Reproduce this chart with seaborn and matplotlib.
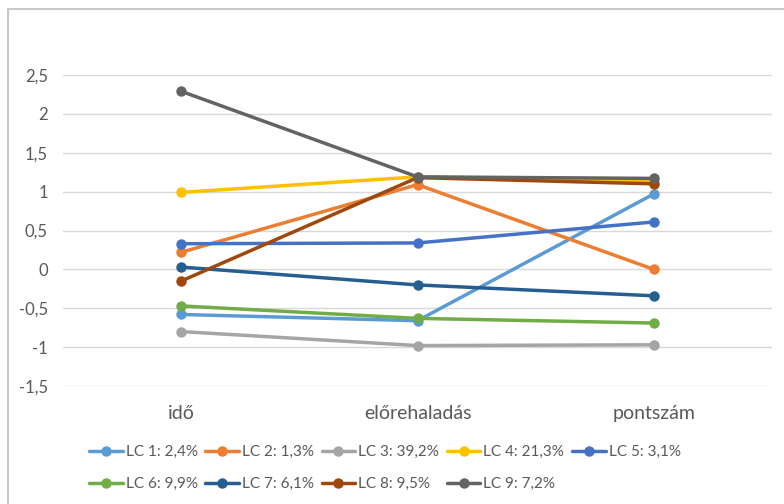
import pandas as pd
import seaborn as sns
import matplotlib.pyplot as plt
from matplotlib.ticker import FuncFormatter
from matplotlib.patches import Rectangle

sns.set_style('white')
plt.rcParams['font.family'] = ['Lato', 'DejaVu Sans']

# data
categories = ['idő', 'előrehaladás', 'pontszám']
series_names = ['LC 1: 2,4%', 'LC 2: 1,3%', 'LC 3: 39,2%', 'LC 4: 21,3%', 'LC 5: 3,1%',
                'LC 6: 9,9%', 'LC 7: 6,1%', 'LC 8: 9,5%', 'LC 9: 7,2%']
lc1 = [-0.58, -0.66, 0.97]
lc2 = [0.22, 1.09, 0.00]
lc3 = [-0.80, -0.98, -0.97]
lc4 = [0.99, 1.19, 1.14]
lc5 = [0.33, 0.34, 0.61]
lc6 = [-0.47, -0.63, -0.69]
lc7 = [0.03, -0.20, -0.34]
lc8 = [-0.15, 1.18, 1.10]
lc9 = [2.29, 1.19, 1.17]
colors = ['#5B9BD5', '#ED7D31', '#A5A5A5', '#FFC000', '#4472C4',
          '#70AD47', '#255E91', '#9E480E', '#636363']

# LONG FORMAT FOR SEABORN
rows = []
for name, vals in zip(series_names, [lc1, lc2, lc3, lc4, lc5, lc6, lc7, lc8, lc9]):
    for cat, v in zip(categories, vals):
        rows.append({'kategoria': cat, 'ertek': v, 'sor': name})
df = pd.DataFrame(rows)

fig = plt.figure(figsize=(7.84, 5.04), dpi=100)

# chart area border: white box inset from the left/top edge
bg = fig.add_axes([8 / 784, -0.05, 1.0, 1.05 - 9 / 504], zorder=-1)
bg.set_xticks([])
bg.set_yticks([])
for s in bg.spines.values():
    s.set_color('#C8C8C8')
    s.set_linewidth(1.5)

ax = fig.add_axes([0.0804, 0.2341, 0.9043, 0.6171])
ax.patch.set_alpha(0)

sns.lineplot(data=df, x='kategoria', y='ertek', hue='sor', hue_order=series_names,
             palette=colors, marker='o', markersize=7.5, markeredgewidth=0,
             linewidth=2.5, sort=False, ax=ax, legend=True)

ax.set_xlim(-0.5, 2.5)
ax.set_ylim(-1.5, 2.5)
ax.set_yticks([-1.5, -1, -0.5, 0, 0.5, 1, 1.5, 2, 2.5])
ax.yaxis.set_major_formatter(FuncFormatter(lambda v, p: ('%g' % v).replace('.', ',')))
ax.grid(axis='y', color='#D9D9D9', linewidth=1)
ax.set_axisbelow(True)
for s in ax.spines.values():
    s.set_visible(False)
ax.set_xlabel('')
ax.set_ylabel('')
ax.tick_params(axis='y', length=0, pad=11, labelsize=12, labelcolor='#595959')
ax.tick_params(axis='x', length=0, pad=14, labelsize=14, labelcolor='#595959')

# legend row by row like excel
handles, labels = ax.get_legend_handles_labels()
ax.legend_.remove()
order = [0, 5, 1, 6, 2, 7, 3, 8, 4]
fig.legend([handles[i] for i in order], [labels[i] for i in order],
           loc='upper left', bbox_to_anchor=(89 / 784, 1 - 445 / 504),
           ncol=5, frameon=False, fontsize=11, labelcolor='#595959',
           handlelength=2.2, handletextpad=0.2, columnspacing=0.5, labelspacing=1.2,
           borderaxespad=0, borderpad=0)

fig.savefig('out.png', dpi=100)
